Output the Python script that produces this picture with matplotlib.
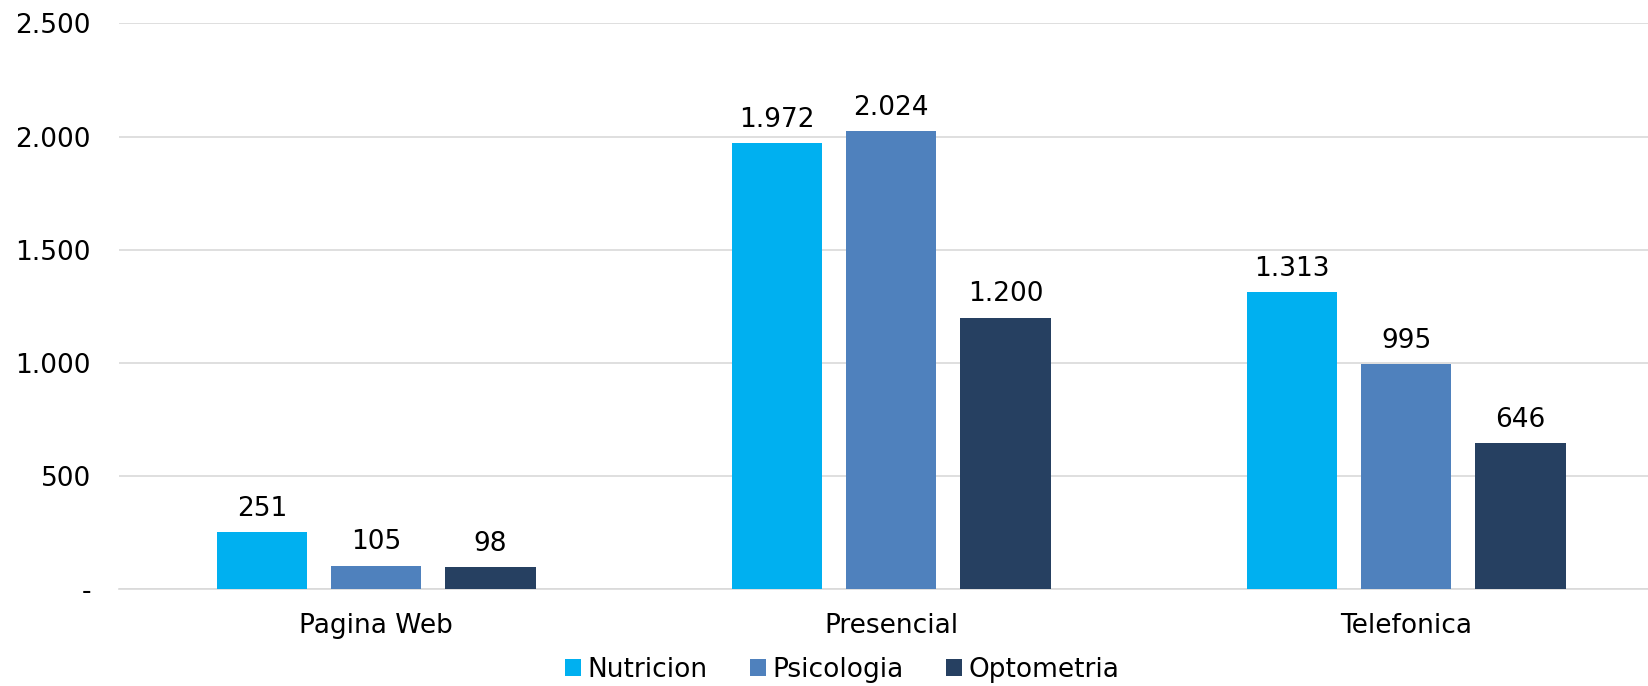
import matplotlib.pyplot as plt
import numpy as np
from matplotlib.ticker import FuncFormatter

categories = ["Pagina Web", "Presencial", "Telefonica"]
series = ["Nutricion", "Psicologia", "Optometria"]
nutricion = [251, 1972, 1313]
psicologia = [105, 2024, 995]
optometria = [98, 1200, 646]
colors = ["#00B0F0", "#4F81BD", "#264061"]


def fmt_thousands(v):
    if v == 0:
        return "-"
    return f"{int(round(v)):,}".replace(",", ".")


plt.rcParams["font.family"] = ["DejaVu Sans"]

fig = plt.figure(figsize=(16.48, 6.86), dpi=100)
ax = fig.add_axes([0.072, 0.141, 0.9375, 0.825])

x = np.arange(len(categories))
width = 0.175
step = 0.222
for i, (name, vals) in enumerate(zip(series, [nutricion, psicologia, optometria])):
    pos = x + (i - 1) * step
    bars = ax.bar(pos, vals, width, color=colors[i], label=name, zorder=3)
    for b, v in zip(bars, vals):
        ax.text(b.get_x() + b.get_width() / 2, v + 45, fmt_thousands(v),
                ha="center", va="bottom", fontsize=19, color="#000000")

ax.set_xlim(-0.5, 2.5)
ax.set_ylim(0, 2500)
ax.set_yticks(range(0, 2501, 500))
ax.yaxis.set_major_formatter(FuncFormatter(lambda v, p: fmt_thousands(v)))
ax.set_xticks(x)
ax.set_xticklabels(categories)
ax.tick_params(axis="both", length=0, labelsize=19, colors="#000000")
ax.tick_params(axis="x", pad=17)
ax.tick_params(axis="y", pad=20)
ax.grid(True, axis="y", color="#D9D9D9", lw=1.2, zorder=0)
for s in ["top", "right", "left"]:
    ax.spines[s].set_visible(False)
ax.spines["bottom"].set_color("#D9D9D9")
ax.spines["bottom"].set_linewidth(1.2)

fig.legend(loc="center", bbox_to_anchor=(0.511, 0.024),
           ncol=3, frameon=False, fontsize=19, handlelength=0.6, handleheight=0.6,
           handletextpad=0.25, columnspacing=1.6)

fig.savefig("out.png", dpi=100)
